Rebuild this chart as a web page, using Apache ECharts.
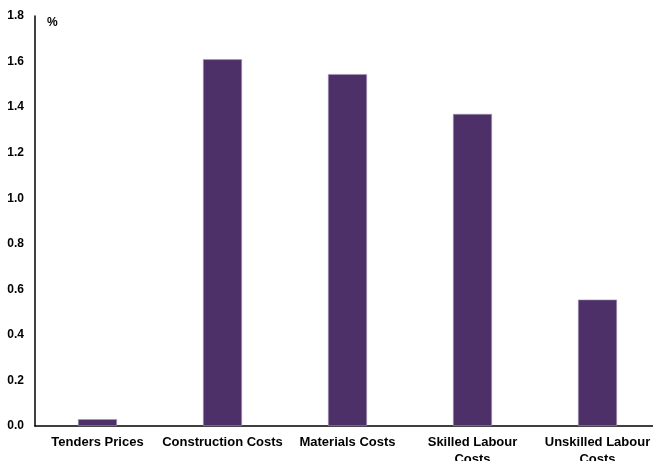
<!DOCTYPE html>
<html><head><meta charset="utf-8">
<script src="https://cdn.jsdelivr.net/npm/echarts@6/dist/echarts.min.js"></script>
<style>html,body{margin:0;padding:0;background:#fff}#c{width:653px;height:461px}</style>
</head><body><div id="c"></div>
<script>
const categories = ['Tenders Prices', 'Construction Costs', 'Materials Costs', 'Skilled Labour\nCosts', 'Unskilled Labour\nCosts'];
const values = [0.03, 1.61, 1.545, 1.37, 0.555];
const yTicks = { min: 0, max: 1.8, interval: 0.2 };

const chart = echarts.init(document.getElementById('c'), null, { renderer: 'canvas' });
chart.setOption({
  animation: false,
  backgroundColor: '#fff',
  grid: { left: 35, top: 16, width: 625, bottom: 35, containLabel: false, outerBoundsMode: 'none' },
  graphic: [{ type: 'text', left: 47, top: 17, style: { text: '%', font: 'bold 12px "Liberation Sans", Arial, sans-serif', fill: '#000' } }],
  xAxis: {
    type: 'category', data: categories,
    axisLine: { lineStyle: { color: '#000', width: 1.5 } },
    axisTick: { show: false },
    axisLabel: { color: '#000', fontWeight: 'bold', fontSize: 13, fontFamily: '"Liberation Sans", Arial, sans-serif', margin: 8, lineHeight: 17, interval: 0 }
  },
  yAxis: {
    type: 'value', min: yTicks.min, max: yTicks.max, interval: yTicks.interval,
    axisLine: { show: true, lineStyle: { color: '#000', width: 1.5 } },
    axisTick: { show: false },
    splitLine: { show: false },
    axisLabel: { color: '#000', fontWeight: 'bold', fontSize: 12, fontFamily: '"Liberation Sans", Arial, sans-serif', margin: 11, formatter: v => v.toFixed(1) }
  },
  series: [{
    type: 'bar', data: values, barWidth: 39,
    itemStyle: { color: '#4d3068', borderColor: '#a898bb', borderWidth: 0.6 }
  }]
});
</script></body></html>
